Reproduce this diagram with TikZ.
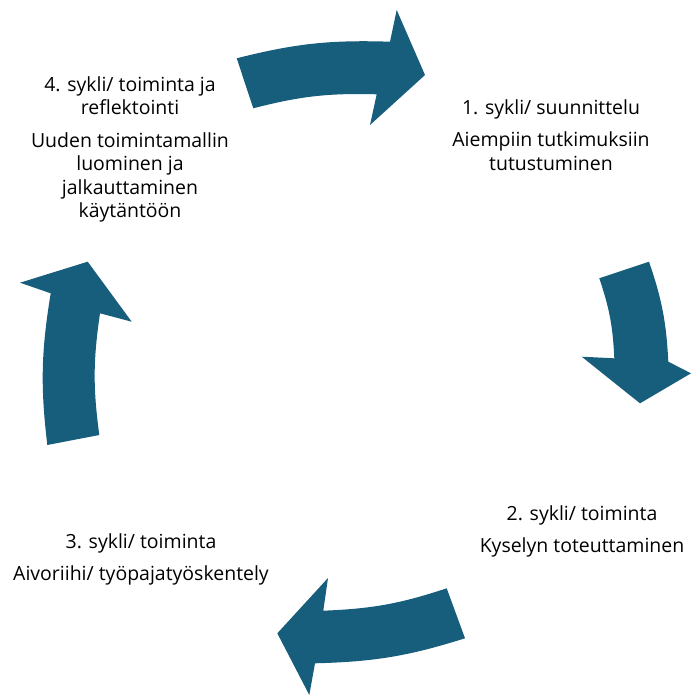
\documentclass[tikz,border=0pt]{standalone}
\usepackage{fontspec}
\setmainfont{Open Sans}
\usepackage{tikz}
\definecolor{cycleblue}{HTML}{165E7C}

\begin{document}
\begin{tikzpicture}[x=0.75pt,y=-0.75pt]
	\tikzstyle{blockarrow}=[fill=cycleblue,draw=none]
	\tikzstyle{cycletext}=[align=center,inner sep=0pt,anchor=north,font=\fontsize{14.6}{17.6}\selectfont]
	\useasboundingbox (0,0) rectangle (691,695);
	% block arrows, clockwise
	\fill[blockarrow] (236.7,58.3) to[bend left=8] (390,41.7) -- (396.7,10) -- (425,75) -- (370,125) -- (376.7,94.3) to[bend right=8] (253.3,108.3) -- cycle;
	\fill[blockarrow] (599.3,278.3) -- (649,261.7) to[bend left=8] (668.3,361.7) -- (691,373.3) -- (640,403.3) -- (581.7,356.7) -- (614.3,358.3) to[bend right=8] cycle;
	\fill[blockarrow] (446.7,588.3) -- (465,638.3) to[bend left=8] (315,663.3) -- (309.3,695) -- (277.3,633.3) -- (328,578) -- (323.3,610.7) to[bend right=8] cycle;
	\fill[blockarrow] (99.3,435) -- (47.3,445) to[bend left=8] (50.7,293.3) -- (20,282.7) -- (87.7,261.7) -- (131.7,321.7) -- (100,313.3) to[bend right=8] cycle;
	% texts
	\node[cycletext](c1) at (551,99) {1. sykli/ suunnittelu\\[7pt]Aiempiin tutkimuksiin\\tutustuminen};
	\node[cycletext](c2) at (582,505) {2. sykli/ toiminta\\[7pt]Kyselyn toteuttaminen};
	\node[cycletext](c3) at (141,533) {3. sykli/ toiminta\\[7pt]Aivoriihi/ työpajatyöskentely};
	\node[cycletext](c4) at (130,76) {4. sykli/ toiminta ja\\reflektointi\\[7pt]Uuden toimintamallin\\luominen ja\\jalkauttaminen\\käytäntöön};
\end{tikzpicture}
\end{document}
